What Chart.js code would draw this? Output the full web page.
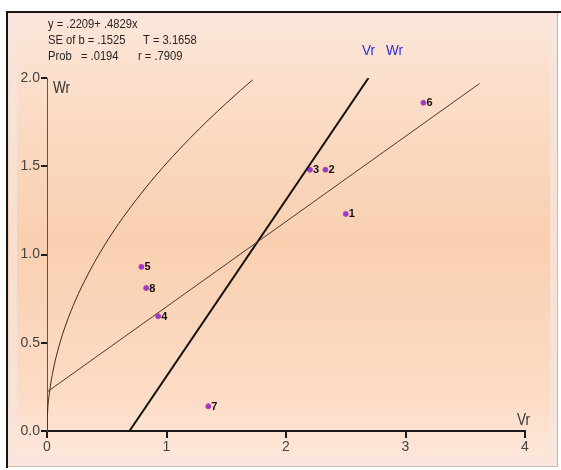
<!DOCTYPE html>
<html>
<head>
<meta charset="utf-8">
<script src="https://cdn.jsdelivr.net/npm/chart.js@4"></script>
<style>
html,body{margin:0;padding:0;background:#fff;}
#wrap{width:561px;height:470px;position:relative;}
</style>
</head>
<body>
<div id="wrap"><canvas id="c" width="561" height="470"></canvas></div>
<script>
// Parental arrays (Vr, Wr)
const parentLabels = ['1','2','3','4','5','6','7','8'];
const vrValues = [2.50, 2.33, 2.20, 0.93, 0.79, 3.15, 1.35, 0.83];
const wrValues = [1.23, 1.48, 1.48, 0.65, 0.93, 1.86, 0.14, 0.81];

// Regression line endpoints (Vr, Wr)
const regVr = [0.00, 3.62];
const regWr = [0.2209, 1.969];

// Unit-slope line endpoints
const unitVr = [0.69, 2.69];
const unitWr = [0.00, 2.00];

// Limiting parabola, points
const parVr = [0.000, 0.005, 0.020, 0.050, 0.100, 0.160, 0.240, 0.340, 0.460, 0.600, 0.750, 0.900, 1.050, 1.200, 1.350, 1.500, 1.620, 1.720];
const parWr = [0.000, 0.107, 0.214, 0.339, 0.480, 0.607, 0.743, 0.884, 1.029, 1.175, 1.313, 1.439, 1.554, 1.661, 1.762, 1.857, 1.930, 1.989];

const xTickValues = [0, 1, 2, 3, 4];
const yTickValues = [0.0, 0.5, 1.0, 1.5, 2.0];

const statLines = [
  ['y = .2209+ .4829x', ''],
  ['SE of b = .1525', 'T = 3.1658'],
  ['Prob   = .0194', 'r = .7909']
];

const zip = (a, b) => a.map((v, i) => ({x: v, y: b[i]}));

const FONT = "'Liberation Sans', Arial, sans-serif";

function narrowText(ctx, txt, x, y, sx) {
  ctx.save();
  ctx.translate(x, y);
  ctx.scale(sx, 1);
  ctx.fillText(txt, 0, 0);
  ctx.restore();
}

const bgPlugin = {
  id: 'bg',
  beforeDraw(chart) {
    const ctx = chart.ctx;
    ctx.save();
    ctx.fillStyle = '#ffffff';
    ctx.fillRect(0, 0, chart.width, chart.height);
    const g = ctx.createLinearGradient(0, 13, 0, 466);
    g.addColorStop(0.0, '#fbe5da');
    g.addColorStop(0.15, '#fbdfcb');
    g.addColorStop(0.5, '#f9cfb0');
    g.addColorStop(0.85, '#fcdcc6');
    g.addColorStop(1.0, '#fde8dc');
    ctx.fillStyle = g;
    ctx.fillRect(8, 13, 550, 453);
    ctx.fillStyle = 'rgba(245,228,222,0.75)';
    ctx.fillRect(9, 14, 8, 451);
    ctx.fillRect(550, 14, 7, 451);
    ctx.fillRect(17, 458, 533, 7);
    ctx.fillRect(17, 14, 533, 5);
    ctx.fillStyle = '#151515';
    ctx.fillRect(6, 11, 555, 2);
    ctx.fillRect(6, 11, 2, 457);
    ctx.fillStyle = '#c9b6ae';
    ctx.fillRect(557, 13, 1, 454);
    ctx.fillRect(8, 466, 550, 1);
    ctx.restore();
  },
  afterDraw(chart) {
    const ctx = chart.ctx;
    ctx.save();
    ctx.fillStyle = '#262626';
    ctx.font = '13px ' + FONT;
    ctx.textBaseline = 'middle';
    ctx.textAlign = 'left';
    const ys = [24, 40, 56.5];
    statLines.forEach((l, i) => {
      narrowText(ctx, l[0], 48, ys[i], 0.86);
      if (l[1]) narrowText(ctx, l[1], i === 1 ? 143 : 138, ys[i], 0.86);
    });
    ctx.fillStyle = '#2a2ad8';
    ctx.font = '15px ' + FONT;
    narrowText(ctx, 'Vr', 362, 51, 0.9);
    narrowText(ctx, 'Wr', 386, 51, 0.9);
    ctx.fillStyle = '#333';
    ctx.font = '16px ' + FONT;
    narrowText(ctx, 'Wr', 53, 89, 0.85);
    narrowText(ctx, 'Vr', 517, 421, 0.85);
    const meta = chart.getDatasetMeta(3);
    ctx.fillStyle = '#111';
    ctx.font = 'bold 11px ' + FONT;
    meta.data.forEach((pt, i) => {
      ctx.fillText(parentLabels[i], pt.x + 3, pt.y + 0.5);
    });
    ctx.restore();
  }
};

new Chart(document.getElementById('c'), {
  type: 'scatter',
  data: {
    datasets: [
      {
        label: 'parabola',
        type: 'line',
        data: zip(parVr, parWr),
        borderColor: '#3a2a22',
        borderWidth: 1,
        pointRadius: 0,
        cubicInterpolationMode: 'monotone',
        tension: 0.4,
        fill: false
      },
      {
        label: 'regression',
        type: 'line',
        data: zip(regVr, regWr),
        borderColor: '#4a3a32',
        borderWidth: 1,
        pointRadius: 0,
        fill: false
      },
      {
        label: 'unit',
        type: 'line',
        data: zip(unitVr, unitWr),
        borderColor: '#111',
        borderWidth: 2,
        pointRadius: 0,
        fill: false
      },
      {
        label: 'parents',
        data: zip(vrValues, wrValues),
        backgroundColor: '#8a3ce0',
        borderColor: '#c84098',
        borderWidth: 1,
        pointRadius: 2.5,
        pointHoverRadius: 2.5
      }
    ]
  },
  options: {
    responsive: false,
    animation: false,
    events: [],
    layout: {padding: {left: 0, right: 36, top: 78, bottom: 0}},
    plugins: {legend: {display: false}, tooltip: {enabled: false}, title: {display: false}},
    scales: {
      x: {
        type: 'linear',
        min: 0, max: 4,
        afterFit(s) { s.height = 39; },
        afterBuildTicks(s) { s.ticks = xTickValues.map(v => ({value: v})); },
        border: {display: true, color: '#1a1a1a', width: 2},
        grid: {drawOnChartArea: false, drawTicks: true, tickLength: 7, color: '#1a1a1a', lineWidth: 2},
        ticks: {color: '#444', font: {family: FONT, size: 14}, padding: 1, callback: v => String(v)}
      },
      y: {
        type: 'linear',
        min: 0, max: 2,
        afterFit(s) { s.width = 47; },
        afterBuildTicks(s) { s.ticks = yTickValues.map(v => ({value: v})); },
        border: {display: true, color: '#555', width: 1},
        grid: {drawOnChartArea: false, drawTicks: true, tickLength: 6, color: '#1a1a1a', lineWidth: 2},
        ticks: {color: '#444', font: {family: FONT, size: 14}, padding: 1, callback: v => Number(v).toFixed(1)}
      }
    }
  },
  plugins: [bgPlugin]
});
</script>
</body>
</html>
